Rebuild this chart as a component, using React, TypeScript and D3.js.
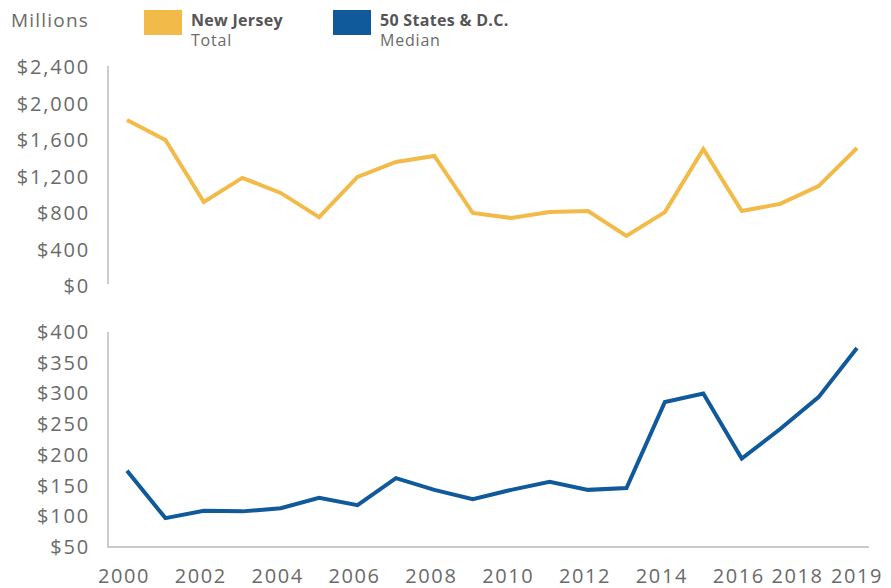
import React, { useEffect, useRef } from "react";
import * as d3 from "d3";

const years = d3.range(2000, 2020);
const njTotal = [1820, 1600, 920, 1185, 1020, 755, 1195, 1360, 1425, 800, 745, 810, 822, 548, 810, 1500, 822, 900, 1095, 1512];
const statesMedian = [174, 97, 109, 108, 113, 130, 118, 162, 143, 128, 143, 156, 143, 146, 286, 300, 194, 242, 294, 374];
const topTicks = [0, 400, 800, 1200, 1600, 2000, 2400];
const bottomTicks = [50, 100, 150, 200, 250, 300, 350, 400];
const yearLabels = [2000, 2002, 2004, 2006, 2008, 2010, 2012, 2014, 2016, 2018, 2019];

const YELLOW = "#f2ba48";
const BLUE = "#10599b";
const GREY = "#6a6a6a";
const FONT = "'Open Sans', sans-serif";

export default function App() {
  const ref = useRef<SVGSVGElement>(null);

  useEffect(() => {
    const svg = d3.select(ref.current);
    svg.selectAll("*").remove();

    const x = d3.scaleLinear().domain([2000, 2019]).range([127, 857]);
    const yTop = d3.scaleLinear().domain([0, 2400]).range([286, 67]);
    const yBot = d3.scaleLinear().domain([50, 400]).range([547, 332]);
    const money = d3.format("$,");

    // legend
    svg.append("text").attr("x", 11).attr("y", 27).text("Millions")
      .attr("font-size", 19).attr("letter-spacing", 1.2).attr("fill", GREY);
    const legend = [
      { x: 144, color: YELLOW, title: "New Jersey", sub: "Total" },
      { x: 333, color: BLUE, title: "50 States & D.C.", sub: "Median" },
    ];
    legend.forEach((l) => {
      svg.append("rect").attr("x", l.x).attr("y", 10).attr("width", 38).attr("height", 25).attr("fill", l.color);
      svg.append("text").attr("x", l.x + 47).attr("y", 26).text(l.title)
        .attr("font-size", 16).attr("font-weight", "bold").attr("letter-spacing", 0.3).attr("fill", "#555");
      svg.append("text").attr("x", l.x + 47).attr("y", 46).text(l.sub)
        .attr("font-size", 16).attr("letter-spacing", 0.8).attr("fill", GREY);
    });

    // top panel
    const gTop = svg.append("g");
    gTop.append("line").attr("x1", 108).attr("x2", 108).attr("y1", 66).attr("y2", 284)
      .attr("stroke", "#bbb").attr("stroke-width", 1.5);
    gTop.selectAll(".yt").data(topTicks).join("text")
      .attr("x", 90).attr("y", (d) => yTop(d)).attr("dy", "0.35em")
      .attr("text-anchor", "end").attr("font-size", 20).attr("letter-spacing", 1.8).attr("fill", GREY)
      .text((d) => money(d));
    gTop.append("path")
      .datum(njTotal)
      .attr("fill", "none").attr("stroke", YELLOW).attr("stroke-width", 4)
      .attr("d", d3.line<number>().x((d, i) => x(years[i])).y((d) => yTop(d)));

    // bottom panel
    const gBot = svg.append("g");
    gBot.append("path").attr("d", `M108,332V547H869`)
      .attr("fill", "none").attr("stroke", "#bbb").attr("stroke-width", 1.5);
    gBot.selectAll(".yb").data(bottomTicks).join("text")
      .attr("x", 90).attr("y", (d) => yBot(d)).attr("dy", "0.35em")
      .attr("text-anchor", "end").attr("font-size", 20).attr("letter-spacing", 1.8).attr("fill", GREY)
      .text((d) => money(d));
    // 2018 label is nudged left so it doesn't run into 2019
    gBot.selectAll(".xl").data(yearLabels).join("text")
      .attr("x", (d) => x(d) + (d === 2018 ? -21 : d === 2019 ? 0 : -3)).attr("y", 583)
      .attr("text-anchor", "middle").attr("font-size", 20).attr("letter-spacing", 1.6)
      .attr("fill", GREY)
      .text((d) => String(d));
    gBot.append("path")
      .datum(statesMedian)
      .attr("fill", "none").attr("stroke", BLUE).attr("stroke-width", 4)
      .attr("d", d3.line<number>().x((d, i) => x(years[i])).y((d) => yBot(d)));

    svg.selectAll("text").attr("font-family", FONT);
  }, []);

  return (
    <svg ref={ref} width={891} height={588}
      style={{ position: "absolute", left: 0, top: 0, background: "#fff" }} />
  );
}
